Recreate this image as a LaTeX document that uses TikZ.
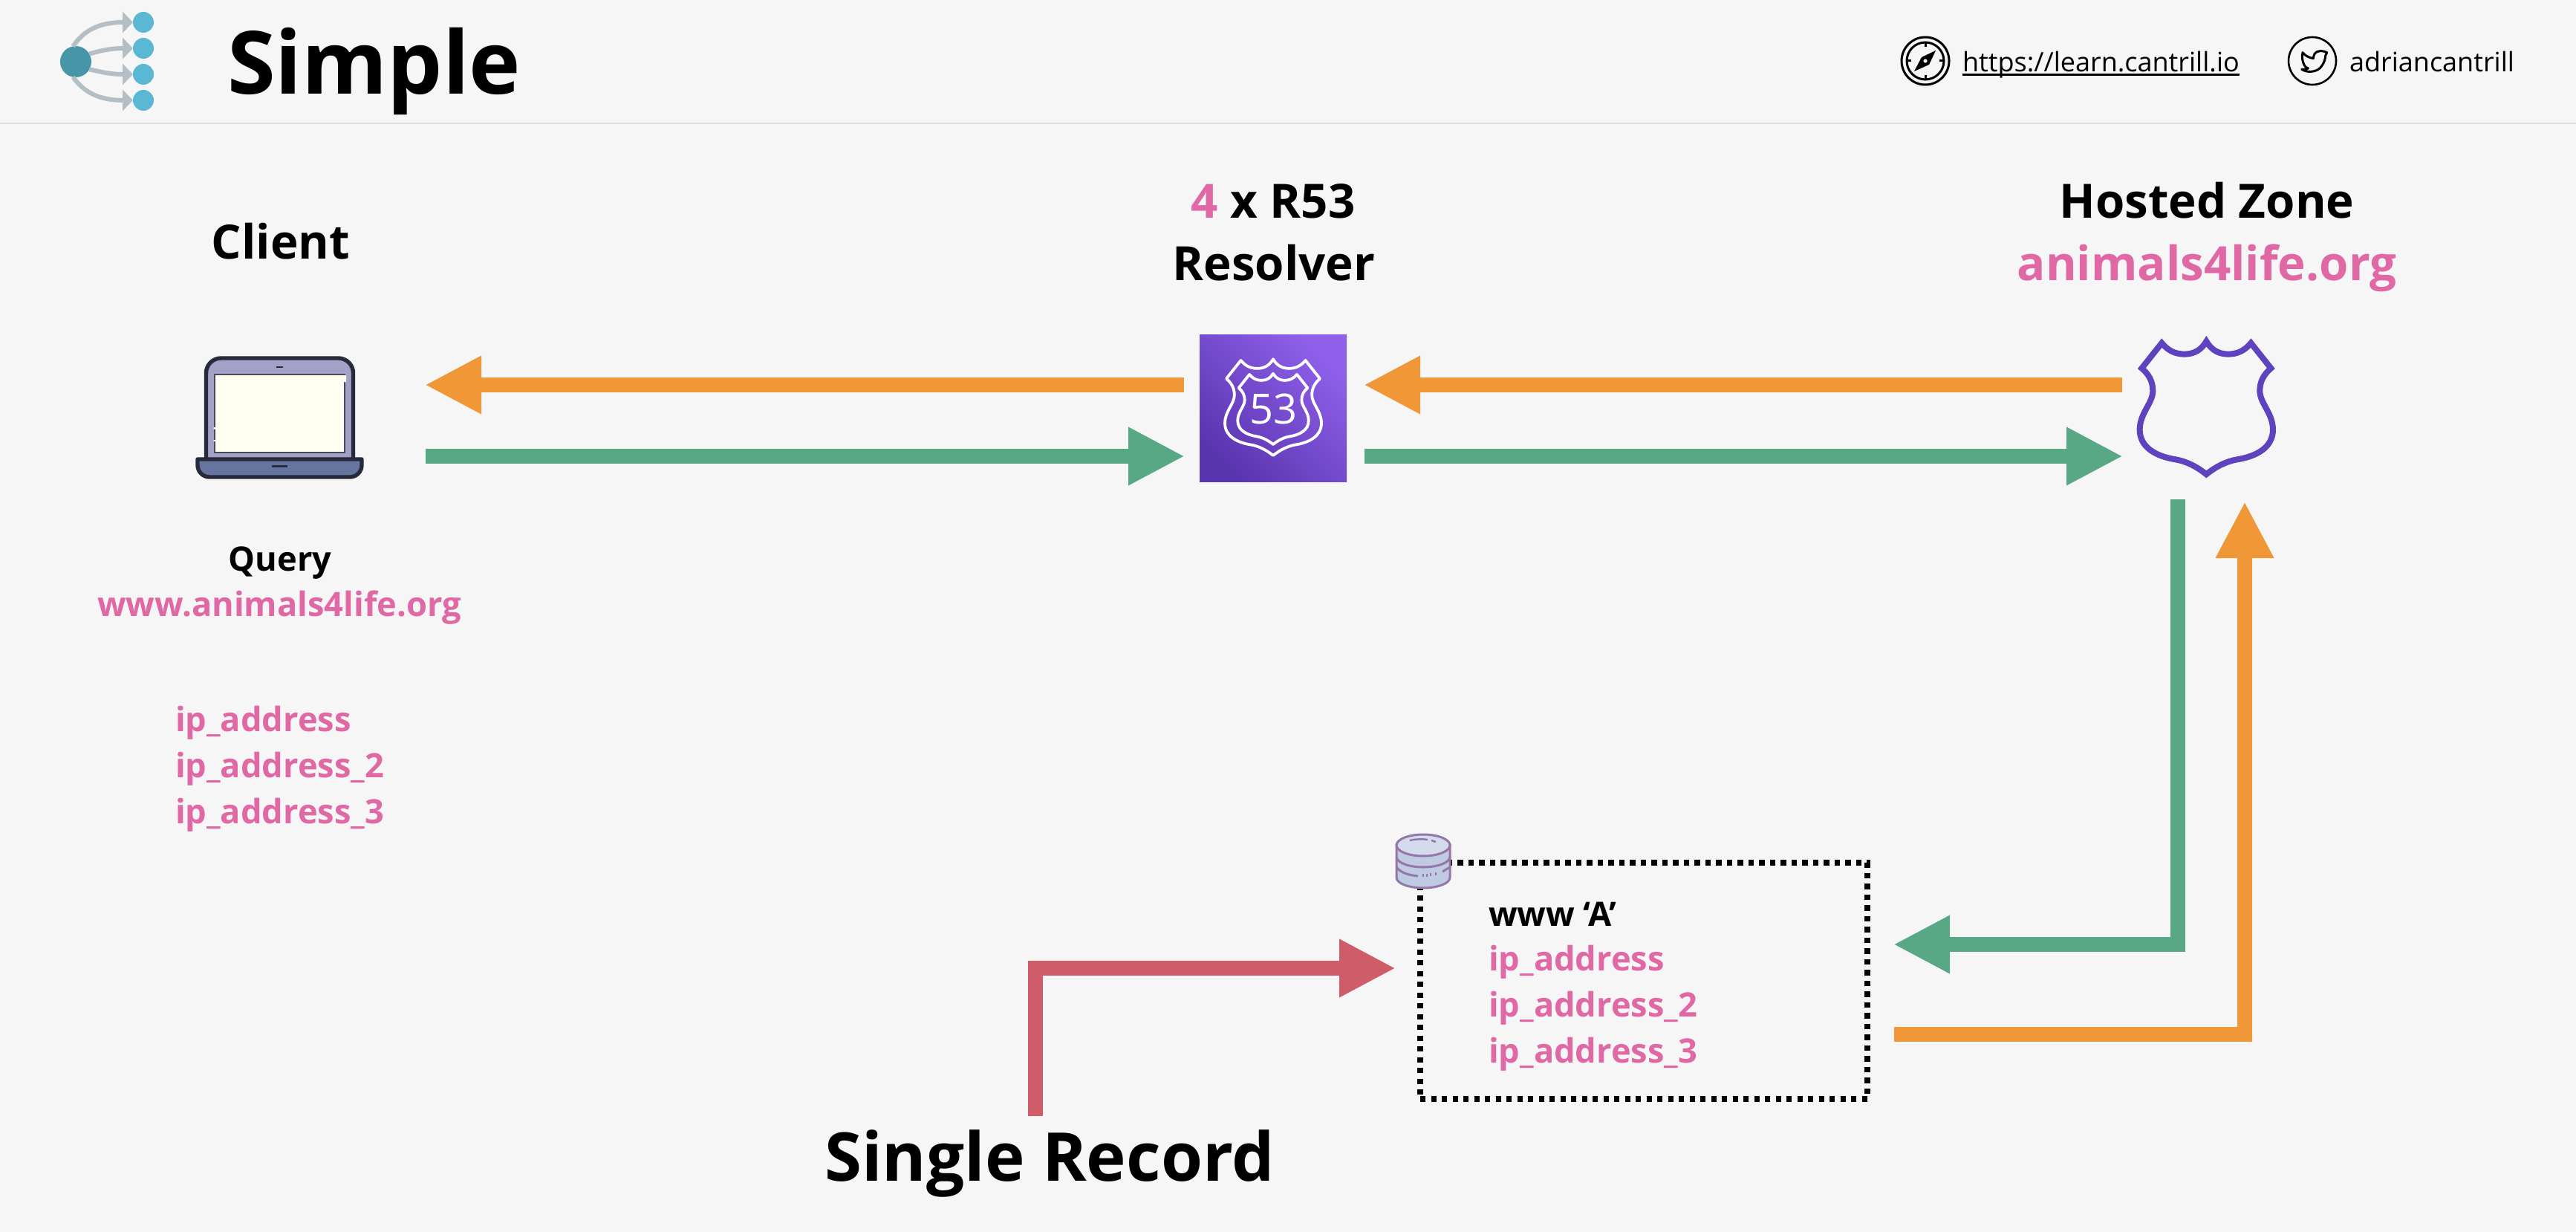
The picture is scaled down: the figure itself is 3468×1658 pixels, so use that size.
\documentclass[tikz,border=0pt]{standalone}
\usepackage{fontspec}
\setmainfont{Open Sans}
\usetikzlibrary{arrows.meta,calc}
\definecolor{bgc}{HTML}{F6F6F6}
\definecolor{orangec}{HTML}{F09838}
\definecolor{greenc}{HTML}{58A785}
\definecolor{redc}{HTML}{CE5C69}
\definecolor{pinkc}{HTML}{DF68A5}
\definecolor{purplec}{HTML}{5F42BE}
\definecolor{hubc}{HTML}{4796A8}
\definecolor{leafc}{HTML}{5BB8D4}
\definecolor{greyc}{HTML}{B4BEC5}
\definecolor{inkc}{HTML}{262A3B}
\definecolor{lidc}{HTML}{A3A1C7}
\definecolor{basec}{HTML}{66759F}
\definecolor{screenc}{HTML}{FFFEF0}
\definecolor{dbc}{HTML}{C0CAE3}
\definecolor{dbtop}{HTML}{D3DBEC}
\definecolor{dbline}{HTML}{9377A8}
\definecolor{awsdark}{HTML}{5A35B0}
\definecolor{awslight}{HTML}{9060EA}
\newcommand\shieldshape[1]{\draw[#1]
  (-180,7) .. controls (-155,38) and (-125,52) .. (-88,52)
  .. controls (-50,52) and (-20,35) .. (0,0)
  .. controls (20,35) and (50,52) .. (88,52)
  .. controls (125,52) and (155,38) .. (180,7)
  -- (261,109)
  .. controls (230,135) and (216,165) .. (216,200)
  .. controls (216,250) and (269,290) .. (269,357)
  .. controls (269,430) and (200,465) .. (125,477)
  .. controls (80,485) and (40,505) .. (0,537)
  .. controls (-40,505) and (-80,485) .. (-125,477)
  .. controls (-200,465) and (-269,430) .. (-269,357)
  .. controls (-269,290) and (-216,250) .. (-216,200)
  .. controls (-216,165) and (-230,135) .. (-261,109)
  -- cycle;}
\tikzset{
  x=0.5pt,y=-0.5pt,
  txt/.style={anchor=base,inner sep=0,outer sep=0,align=center},
  ltxt/.style={anchor=base west,inner sep=0,outer sep=0},
  hd/.style={font=\fontsize{31.8}{38}\selectfont\bfseries},
  md/.style={font=\fontsize{22.6}{28}\selectfont\bfseries},
  thick arrow/.style={line width=10pt,-{Triangle[length=38pt,width=36.5pt]}},
  holder/.style={rectangle,inner sep=0,outer sep=0},
  dot/.style={circle,inner sep=0,outer sep=0,minimum size=#1*1pt},
  small arrow/.style={greyc,line width=3pt,-{Triangle[length=7pt,width=14pt]}},
}
\begin{document}
\begin{tikzpicture}
\useasboundingbox (0,0) rectangle (3468,1658);
\fill[bgc] (0,0) rectangle (3468,1658);
% header
\draw[color=black!12,line width=1pt] (0,166) -- (3468,166);
\node[dot=21,fill=hubc] (hub) at (102,83) {};
\node[dot=14,fill=leafc] (l1) at (193,30) {};
\node[dot=14,fill=leafc] (l2) at (193,65) {};
\node[dot=14,fill=leafc] (l3) at (193,100) {};
\node[dot=14,fill=leafc] (l4) at (193,135) {};
\draw[small arrow] (hub.100) .. controls (112,42) and (132,30) .. (l1.west);
\draw[small arrow] (hub.30) .. controls (130,70) and (145,65) .. (l2.west);
\draw[small arrow] (hub.-30) .. controls (130,95) and (145,100) .. (l3.west);
\draw[small arrow] (hub.-100) .. controls (112,123) and (132,135) .. (l4.west);
\node[ltxt,font=\fontsize{58.7}{70}\selectfont\bfseries] (title) at (306,127) {Simple};
% compass
\node[dot=32,draw,line width=1.5pt] (compass) at (2592,82) {};
\node[dot=25,draw,line width=1.5pt] (compassin) at (2592,82) {};
\draw[line width=1.5pt] (2592,57) -- (2592,63) (2592,107) -- (2592,101) (2567,82) -- (2573,82) (2617,82) -- (2611,82);
\fill (2577,96) -- (2587,77) -- (2606,68) -- (2597,87) -- cycle;
\draw[fill=bgc,line width=1.2pt] (2592,82) circle (4);
\node[ltxt,font=\fontsize{18}{22}\selectfont] (url) at (2642,97) {https://learn.cantrill.io};
\draw[line width=1.1pt] (2642,100.5) -- (3015,100.5);
% twitter
\node[dot=32,draw,line width=1.3pt] (bird) at (3113,82) {};
\begin{scope}[shift={(3060,30)},scale=1/3,line width=1.5pt,line join=round]
\draw (218,122) .. controls (205,115) and (180,110) .. (168,128) .. controls (165,135) and (163,140) .. (163,146)
 .. controls (145,143) and (130,135) .. (120,122) .. controls (115,140) and (120,160) .. (126,172)
 .. controls (128,180) and (135,183) .. (142,186) .. controls (135,190) and (125,192) .. (116,190)
 .. controls (135,203) and (170,203) .. (190,185) .. controls (208,165) and (212,145) .. (212,135) -- cycle;
\end{scope}
\node[ltxt,font=\fontsize{18}{22}\selectfont] (handle) at (3163,97) {adriancantrill};
% column titles
\node[txt,hd] (client) at (378,349) {Client};
\node[txt,hd] (r53) at (1714,294) {\textcolor{pinkc}{4} x R53};
\node[txt,hd] (res) at (1715,378) {Resolver};
\node[txt,hd] (hz) at (2971,294) {Hosted Zone};
\node[txt,hd,text=pinkc] (hzn) at (2971,378) {animals4life.org};
\node[txt,md] (q) at (377,768) {Query};
\node[txt,md,text=pinkc] (qn) at (376,829) {www.animals4life.org};
\node[ltxt,md,text=pinkc] (i1) at (236,984) {ip\_address};
\node[ltxt,md,text=pinkc] (i2) at (236,1046) {ip\_address\_2};
\node[ltxt,md,text=pinkc] (i3) at (236,1108) {ip\_address\_3};
% laptop
\node[holder,minimum width=112.5pt,minimum height=82.5pt] (laptop) at (376.5,561.5) {};
\draw[inkc,fill=lidc,line width=2.7pt,rounded corners=10pt] (277.5,620) -- (277.5,482) -- (475.5,482) -- (475.5,620);
\draw[fill=screenc,draw=inkc!85,line width=1.1pt] (289,504) rectangle (464,609);
\fill[screenc] (462,505) rectangle (466,514) (287.5,575) rectangle (291,577.5) (287.5,592) rectangle (291,594);
\draw[inkc,line width=1pt] (372,493.5) -- (381,493.5);
\draw[inkc,fill=basec,line width=2.7pt,line join=round] (266,618) -- (487,618) [rounded corners=8pt] -- (487,642) -- (266,642) [sharp corners] -- cycle;
\draw[inkc,line width=1.2pt] (366,627.5) -- (387,627.5);
% resolver
\node[holder,minimum size=99pt,shade,bottom color=awsdark,top color=awslight,shading angle=-45] (resolver) at (1714,549) {};
\begin{scope}[shift={(1714,483.3)},scale=0.2415]
\shieldshape{white,line width=1.9pt,line join=round}
\end{scope}
\begin{scope}[shift={(1714,502.7)},scale=0.1775]
\shieldshape{white,line width=1.9pt,line join=round}
\end{scope}
\node[anchor=base,inner sep=0,text=white,font=\fontsize{28}{30}\selectfont] (fiftythree) at (1714,570) {53};
% hosted zone shield
\node[holder,minimum width=90pt,minimum height=95pt] (zone) at (2970,552) {};
\begin{scope}[shift={(2970.3,459.3)},scale=1/3]
\shieldshape{purplec,line width=4pt,miter limit=6}
\end{scope}
% record box
\node[holder,minimum width=301pt,minimum height=159pt,draw=black,line width=3.6pt,dash pattern=on 3.6pt off 3.65pt] (record) at (2213,1320) {};
\begin{scope}[shift={(1916,1123)}]
\draw[dbline,fill=dbc,line width=1.5pt] (-36,14) -- (-36,58) arc[start angle=180,end angle=0,x radius=36,y radius=14] -- (36,14) -- cycle;
\draw[dbline,line width=1.5pt] (-36,30) arc[start angle=180,end angle=0,x radius=36,y radius=14];
\draw[dbline,line width=1.5pt] (-36,44) .. controls (-30,52) and (-18,55) .. (-7,56);
\draw[dbline,line width=1.2pt] (0,57) -- (0,53) (5,57) -- (5,53) (10,56) -- (10,52) (17,55) -- (17,51);
\draw[dbline,line width=1.5pt] (26,50) -- (36,44);
\draw[dbline,fill=dbtop,line width=1.5pt] (0,14.5) ellipse (36 and 14.5);
\draw[dbline,line width=1.2pt] (-18,8) .. controls (-10,6) and (0,6) .. (6,7);
\draw[dbline,line width=1.2pt] (11,8) -- (17,10);
\end{scope}
\node[ltxt,md] (rtitle) at (2004,1246) {www ‘A’};
\node[ltxt,md,text=pinkc] (r1) at (2004,1306) {ip\_address};
\node[ltxt,md,text=pinkc] (r2) at (2004,1368) {ip\_address\_2};
\node[ltxt,md,text=pinkc] (r3) at (2004,1430) {ip\_address\_3};
\node[txt,font=\fontsize{45.3}{54}\selectfont\bfseries] (single) at (1413,1589) {Single Record};
% connectors
\draw[thick arrow,orangec] ($(resolver.west)+(-21,-31)$) -- ($(laptop.east)+(83,-43.5)$);
\draw[thick arrow,greenc] ($(laptop.east)+(84,52.5)$) -- ($(resolver.west)+(-20,65)$);
\draw[thick arrow,orangec] ($(zone.west)+(-23,-34)$) -- ($(resolver.east)+(23,-31)$);
\draw[thick arrow,greenc] ($(resolver.east)+(24,65)$) -- ($(zone.west)+(-22,62)$);
\draw[thick arrow,greenc] ($(zone.south)+(-38,25)$) |- ($(record.east)+(35,-49)$);
\draw[thick arrow,orangec] ($(record.east)+(36,72)$) -| ($(zone.south)+(52,28)$);
\draw[thick arrow,redc] ($(single.base)+(-19,-87)$) |- ($(record.west)+(-33,-17)$);
\end{tikzpicture}
\end{document}
